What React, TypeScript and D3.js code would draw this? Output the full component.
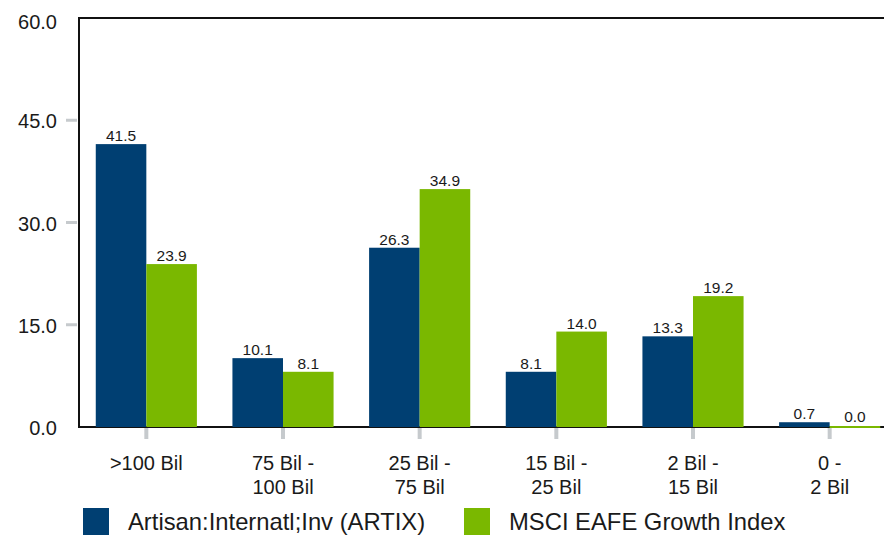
import React from "react";
import * as d3 from "d3";

const categories = [">100 Bil", "75 Bil -|100 Bil", "25 Bil -|75 Bil", "15 Bil -|25 Bil", "2 Bil -|15 Bil", "0 -|2 Bil"];
const seriesNames = ["Artisan:Internatl;Inv (ARTIX)", "MSCI EAFE Growth Index"];
const artixValues = [41.5, 10.1, 26.3, 8.1, 13.3, 0.7];
const msciValues = [23.9, 8.1, 34.9, 14.0, 19.2, 0.0];
const yTicks = [0, 15, 30, 45, 60];
const colors = ["#003f72", "#7ab800"];

const W = 884;
const H = 535;
const FONT = "'Liberation Sans', Arial, Helvetica, sans-serif";

export default function App() {
  const y = d3.scaleLinear().domain([0, 60]).range([427, 18]);
  const x0 = d3.scaleBand<string>().domain(categories).range([78, 898]).paddingInner(0.26).paddingOuter(0.13);
  const x1 = d3.scaleBand<number>().domain([0, 1]).range([0, x0.bandwidth()]);
  const series = [artixValues, msciValues];
  const axisLeft = 79;

  return (
    <svg width={W} height={H} style={{ position: "absolute", left: 0, top: 0, background: "#fff" }} fontFamily={FONT}>
      {/* y ticks */}
      {yTicks.filter((t) => t > 0 && t < 60).map((t) => (
        <line key={"yt" + t} x1={66} x2={77} y1={y(t)} y2={y(t)} stroke="#c6cacd" strokeWidth={3} />
      ))}
      {yTicks.map((t) => (
        <text key={"yl" + t} x={57} y={Math.max(y(t) + 8, 29)} textAnchor="end" fontSize={20} fill="#1a1a1a">
          {t.toFixed(1)}
        </text>
      ))}
      {/* x ticks */}
      {categories.map((c) => {
        const cx = (x0(c) as number) + x0.bandwidth() / 2;
        return <line key={"xt" + c} x1={cx} x2={cx} y1={428} y2={439} stroke="#c6cacd" strokeWidth={4} />;
      })}
      {/* frame */}
      <line x1={axisLeft} x2={W} y1={18} y2={18} stroke="#111" strokeWidth={2} />
      <line x1={axisLeft} x2={axisLeft} y1={17} y2={428} stroke="#111" strokeWidth={2} />
      <line x1={axisLeft} x2={W} y1={427} y2={427} stroke="#111" strokeWidth={2} />
      {/* bars */}
      {categories.map((c, i) => (
        <g key={"g" + c} transform={`translate(${x0(c)},0)`}>
          {series.map((vals, s) => {
            const v = vals[i];
            const top = y(v);
            const h = Math.max(y(0) - top, 2);
            const bx = x1(s) as number;
            const bw = x1.bandwidth();
            return (
              <g key={s}>
                <rect x={bx} y={Math.min(top, y(0) - 2) + (v === 0 ? 1 : 0)} width={bw} height={h} fill={colors[s]} />
                <text x={bx + bw / 2} y={Math.min(top, y(0) - 2) - 3} textAnchor="middle" fontSize={15.5} fill="#1a1a1a">
                  {v.toFixed(1)}
                </text>
              </g>
            );
          })}
        </g>
      ))}
      {/* category labels */}
      {categories.map((c) => {
        const cx = (x0(c) as number) + x0.bandwidth() / 2;
        const lines = c.split("|");
        return (
          <text key={"cl" + c} x={cx} y={470} textAnchor="middle" fontSize={20} fill="#1a1a1a">
            {lines.map((ln, k) => (
              <tspan key={k} x={cx} dy={k === 0 ? 0 : 24}>
                {ln}
              </tspan>
            ))}
          </text>
        );
      })}
      {/* legend */}
      {seriesNames.map((n, s) => {
        const lx = s === 0 ? 83 : 464;
        return (
          <g key={"lg" + s}>
            <rect x={lx} y={508} width={26} height={28} fill={colors[s]} />
            <text x={lx + 45} y={530} fontSize={23.8} fill="#1a1a1a">
              {n}
            </text>
          </g>
        );
      })}
    </svg>
  );
}
